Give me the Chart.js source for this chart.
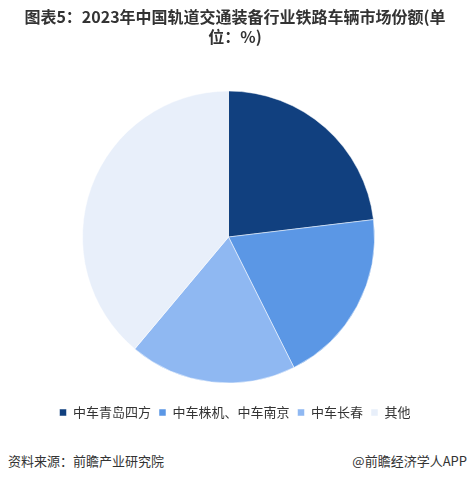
<!DOCTYPE html>
<html>
<head>
<meta charset="utf-8">
<script src="https://cdn.jsdelivr.net/npm/chart.js@4/dist/chart.umd.min.js"></script>
<style>
    body { margin: 0; background: #fff; }
    #wrap { position: relative; width: 470px; height: 481px; }
    #box { position: absolute; left: 0; top: 0; width: 470px; height: 440px; }
    .foot { position: absolute; top: 452px; font: 13px "Noto Sans CJK SC", sans-serif; color: #333; line-height: 18px; }
</style>
</head>
<body>
<div id="wrap">
    <div id="box"><canvas id="fatiaMercado"></canvas></div>
    <div class="foot" style="left:8px;">资料来源：前瞻产业研究院</div>
    <div class="foot" style="right:3px;">@前瞻经济学人APP</div>
</div>
<script>
var empresas = ['中车青岛四方', '中车株机、中车南京', '中车长春', '其他'];
var participacao = [23.1, 19.5, 18.5, 38.9];
var cores = ['#11407f', '#5b97e5', '#8fb8f2', '#e8effa'];
var titulo = ['图表5：2023年中国轨道交通装备行业铁路车辆市场份额(单', '位：%)'];

var fonte = '"Noto Sans CJK SC", sans-serif';

var pieCtx = document.getElementById('fatiaMercado').getContext('2d');

// empurra a pizza um pouco pra esquerda sem mexer no titulo e legenda
var deslocaPizza = {
    id: 'deslocaPizza',
    afterLayout: function(chart) {
        chart.chartArea.right -= 13;
        chart.chartArea.width -= 13;
    }
};

var pieData = {
    labels: empresas,
    datasets: [{
        data: participacao,
        backgroundColor: cores,
        borderColor: '#ffffff',
        borderWidth: 0.5
    }]
};

var pieOptions = {
    responsive: true,
    maintainAspectRatio: false,
    animation: false,
    radius: 146,
    layout: {
        padding: { top: 0, bottom: 11 }
    },
    plugins: {
        title: {
            display: true,
            text: titulo,
            color: '#333333',
            font: { family: fonte, size: 16, weight: 'bold', lineHeight: 1.25 },
            padding: { top: 7, bottom: 29 }
        },
        legend: {
            position: 'bottom',
            labels: {
                boxWidth: 7,
                boxHeight: 7,
                padding: 8,
                color: '#333333',
                font: { family: fonte, size: 13 }
            }
        },
        tooltip: { enabled: false }
    }
};

var myPieChart = new Chart(pieCtx, {
    type: 'pie',
    data: pieData,
    options: pieOptions,
    plugins: [deslocaPizza]
});
</script>
</body>
</html>
